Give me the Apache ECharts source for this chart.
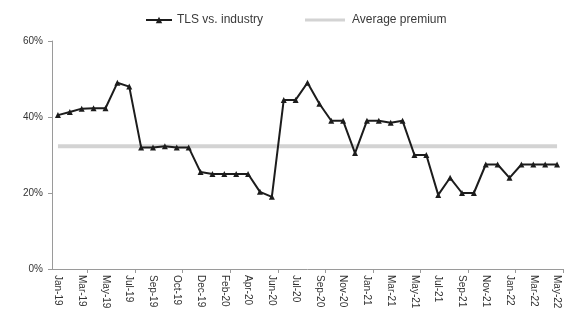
<!DOCTYPE html>
<html>
<head>
<meta charset="utf-8">
<script src="https://cdn.jsdelivr.net/npm/echarts@6/dist/echarts.min.js"></script>
<style>
  html, body { margin: 0; padding: 0; background: #ffffff; }
  #chart { width: 564px; height: 326px; }
</style>
</head>
<body>
<div id="chart"></div>
<script>
// Month labels for each observation (two readings fall in Sep-19 and Jun-20)
const months = [
  'Jan-19', 'Feb-19', 'Mar-19', 'Apr-19', 'May-19', 'Jun-19', 'Jul-19', 'Aug-19',
  'Sep-19', 'Sep-19', 'Oct-19', 'Nov-19', 'Dec-19', 'Jan-20', 'Feb-20', 'Mar-20',
  'Apr-20', 'May-20', 'Jun-20', 'Jun-20', 'Jul-20', 'Aug-20', 'Sep-20', 'Oct-20',
  'Nov-20', 'Dec-20', 'Jan-21', 'Feb-21', 'Mar-21', 'Apr-21', 'May-21', 'Jun-21',
  'Jul-21', 'Aug-21', 'Sep-21', 'Oct-21', 'Nov-21', 'Dec-21', 'Jan-22', 'Feb-22',
  'Mar-22', 'Apr-22', 'May-22'
];

// TLS valuation premium vs. industry, in percent
const tlsPremium = [
  40.5, 41.3, 42.2, 42.3, 42.3, 49.0, 48.0, 32.0, 32.0, 32.3,
  32.0, 32.0, 25.5, 25.0, 25.0, 25.0, 25.0, 20.3, 19.0, 44.5,
  44.5, 49.0, 43.5, 39.0, 39.0, 30.5, 39.0, 39.0, 38.5, 39.0,
  30.0, 30.0, 19.5, 24.0, 20.0, 20.0, 27.5, 27.5, 24.0, 27.5,
  27.5, 27.5, 27.5
];

// Long-run average premium, in percent
const averagePremium = 32.3;

// Value axis range and step, in percent
const yMin = 0;
const yMax = 60;
const yStep = 20;

const seriesNames = ['TLS vs. industry', 'Average premium'];

const chart = echarts.init(document.getElementById('chart'), null, { renderer: 'canvas' });

const baseFont = '"Liberation Sans", Arial, sans-serif';

chart.setOption({
  animation: false,
  backgroundColor: '#ffffff',
  textStyle: { fontFamily: baseFont },
  legend: [
    {
      data: [seriesNames[0]],
      left: 140,
      top: 9,
      itemWidth: 26,
      itemHeight: 8,
      itemGap: 4,
      textStyle: { fontSize: 12, color: '#3a3a3a', fontFamily: baseFont }
    },
    {
      data: [{ name: seriesNames[1], icon: 'rect' }],
      left: 300,
      top: 9,
      itemWidth: 40,
      itemHeight: 3,
      textStyle: { fontSize: 12, color: '#3a3a3a', fontFamily: baseFont, padding: [0, 0, 0, 2] }
    }
  ],
  grid: {
    left: 52,
    right: 1,
    top: 41,
    bottom: 57,
    containLabel: false
  },
  xAxis: {
    type: 'category',
    data: months,
    boundaryGap: true,
    axisLine: { show: true, lineStyle: { color: '#9a9a9a', width: 1 } },
    axisTick: {
      show: true,
      length: 4,
      interval: function (index) { return index % 4 === 3; },
      lineStyle: { color: '#9a9a9a' }
    },
    axisLabel: {
      interval: 1,
      rotate: -90,
      fontSize: 10,
      color: '#333333',
      margin: 6,
      fontFamily: baseFont
    },
    splitLine: { show: false }
  },
  yAxis: {
    type: 'value',
    min: yMin,
    max: yMax,
    interval: yStep,
    axisLine: { show: true, lineStyle: { color: '#9a9a9a', width: 1 } },
    axisTick: { show: true, length: 4, lineStyle: { color: '#9a9a9a' } },
    axisLabel: {
      formatter: '{value}%',
      fontSize: 10,
      color: '#333333',
      margin: 9,
      fontFamily: baseFont
    },
    splitLine: { show: false }
  },
  series: [
    {
      name: seriesNames[1],
      type: 'line',
      data: months.map(function () { return averagePremium; }),
      symbol: 'none',
      lineStyle: { color: '#d3d3d3', width: 4 },
      itemStyle: { color: '#d3d3d3' },
      z: 1,
      silent: true
    },
    {
      name: seriesNames[0],
      type: 'line',
      data: tlsPremium,
      symbol: 'triangle',
      symbolSize: 6,
      showAllSymbol: true,
      lineStyle: { color: '#1c1c1c', width: 2 },
      itemStyle: { color: '#1c1c1c', borderWidth: 0 },
      z: 3
    }
  ]
});
</script>
</body>
</html>
